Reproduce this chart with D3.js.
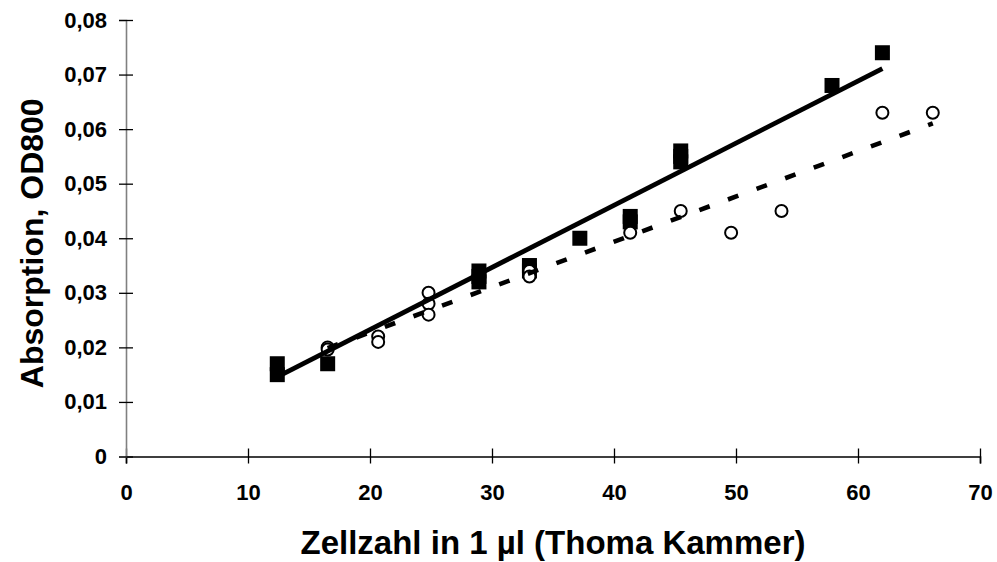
<!DOCTYPE html>
<html>
<head>
<meta charset="utf-8">
<script src="https://cdn.jsdelivr.net/npm/d3@7"></script>
<style>
  html, body { margin: 0; padding: 0; background: #fff; }
  svg { display: block; font-family: "Liberation Sans", Arial, Helvetica, sans-serif; }
</style>
</head>
<body>
<svg id="chart" width="997" height="562"></svg>
<script>
// Cell counts (Thoma chamber) and measured absorbance at 800 nm, two series
const squareX = [12.4, 12.4, 16.53, 28.93, 28.93, 28.93, 33.07, 33.07, 37.2, 41.33, 41.33, 45.47, 45.47, 45.47, 57.87, 62.0];
const squareY = [0.017, 0.015, 0.017, 0.034, 0.033, 0.032, 0.035, 0.034, 0.040, 0.044, 0.043, 0.056, 0.055, 0.054, 0.068, 0.074];

const circleX = [16.53, 16.53, 20.67, 20.67, 24.8, 24.8, 24.8, 33.07, 33.07, 41.33, 45.47, 49.6, 53.73, 62.0, 66.13];
const circleY = [0.020, 0.0196, 0.022, 0.021, 0.030, 0.028, 0.026, 0.034, 0.033, 0.041, 0.045, 0.041, 0.045, 0.063, 0.063];

// Linear trend lines: [intercept, slope] and the x range they span
const trendSquares = [0.00048, 0.001139];
const trendSquaresRange = [12.4, 62.0];
const trendCircles = [0.00615, 0.00083];
const trendCirclesRange = [16.53, 66.13];

const xTicks = [0, 10, 20, 30, 40, 50, 60, 70];
const yTicks = [0, 0.01, 0.02, 0.03, 0.04, 0.05, 0.06, 0.07, 0.08];

const xTitle = "Zellzahl in 1 µl (Thoma Kammer)";
const yTitle = "Absorption, OD800";

const svg = d3.select("#chart");

const x = d3.scaleLinear().domain([0, 70]).range([126, 980]);
const y = d3.scaleLinear().domain([0, 0.08]).range([456.5, 20]);

const fmtY = v => v === 0 ? "0" : d3.format(".2f")(v).replace(".", ",");

// y axis
const gy = svg.append("g")
  .attr("transform", `translate(${x(0)},0)`)
  .call(d3.axisLeft(y).tickValues(yTicks).tickFormat(fmtY).tickSize(7).tickPadding(12));
gy.select(".domain").attr("stroke", "#808080").attr("stroke-width", 1.6);
gy.selectAll(".tick line").attr("x1", -7).attr("x2", 7).attr("stroke", "#000").attr("stroke-width", 1.3);
gy.selectAll(".tick text")
  .attr("font-size", 22).attr("font-weight", "bold").attr("fill", "#000")
  .attr("font-family", "'Liberation Sans', Arial, sans-serif");

// x axis
const gx = svg.append("g")
  .attr("transform", `translate(0,${y(0)})`)
  .call(d3.axisBottom(x).tickValues(xTicks).tickFormat(d3.format("d")).tickSize(7).tickPadding(21));
gx.select(".domain").attr("stroke", "#000").attr("stroke-width", 1.6);
gx.selectAll(".tick line").attr("y1", -8).attr("y2", 7).attr("stroke", "#000").attr("stroke-width", 1.3);
gx.selectAll(".tick text")
  .attr("font-size", 22).attr("font-weight", "bold").attr("fill", "#000")
  .attr("font-family", "'Liberation Sans', Arial, sans-serif");
// keep the y axis line in front at the origin
gy.raise();

// axis titles
svg.append("text")
  .attr("x", (x(0) + x(70)) / 2)
  .attr("y", 554)
  .attr("text-anchor", "middle")
  .attr("font-size", 33).attr("font-weight", "bold")
  .text(xTitle);

svg.append("text")
  .attr("transform", `translate(43,${(y(0) + y(0.08)) / 2 + 5}) rotate(-90)`)
  .attr("text-anchor", "middle")
  .attr("font-size", 32).attr("font-weight", "bold")
  .text(yTitle);

// markers: filled squares, then open circles
const sq = 15;
svg.append("g").selectAll("rect")
  .data(d3.range(squareX.length))
  .join("rect")
  .attr("x", i => x(squareX[i]) - sq / 2)
  .attr("y", i => y(squareY[i]) - sq / 2)
  .attr("width", sq).attr("height", sq)
  .attr("fill", "#000");

svg.append("g").selectAll("circle")
  .data(d3.range(circleX.length))
  .join("circle")
  .attr("cx", i => x(circleX[i]))
  .attr("cy", i => y(circleY[i]))
  .attr("r", 6)
  .attr("fill", "#fff")
  .attr("stroke", "#000")
  .attr("stroke-width", 2);

// trend lines
const line = d3.line().x(d => x(d[0])).y(d => y(d[1]));
const trendPts = (coef, range) => range.map(v => [v, coef[0] + coef[1] * v]);

svg.append("path")
  .attr("d", line(trendPts(trendSquares, trendSquaresRange)))
  .attr("fill", "none").attr("stroke", "#000").attr("stroke-width", 4.8);

svg.append("path")
  .attr("d", line(trendPts(trendCircles, trendCirclesRange)))
  .attr("fill", "none").attr("stroke", "#000").attr("stroke-width", 4.6)
  .attr("stroke-dasharray", "11,19.5");
</script>
</body>
</html>
